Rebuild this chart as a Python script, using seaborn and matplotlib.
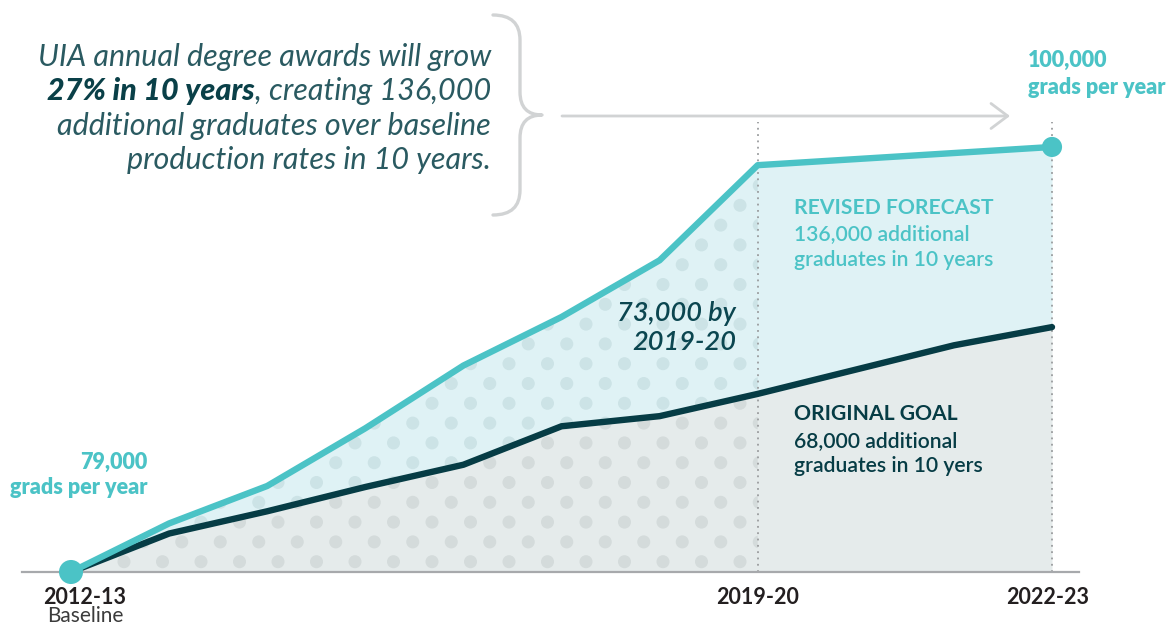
import numpy as np
import pandas as pd
import matplotlib
matplotlib.use("Agg")
import matplotlib.pyplot as plt
import matplotlib.transforms as mtransforms
from matplotlib.path import Path
from matplotlib.patches import PathPatch
import seaborn as sns

# ---------------- data ----------------
years = ["2012-13", "2013-14", "2014-15", "2015-16", "2016-17", "2017-18",
         "2018-19", "2019-20", "2020-21", "2021-22", "2022-23"]
year_idx = list(range(len(years)))
# annual degree awards, thousands
revised_forecast = [79.0, 81.4, 83.25, 86.1, 89.2, 91.6, 94.4, 99.1, 99.4, 99.7, 100.0]
original_goal = [79.0, 80.9, 82.0, 83.2, 84.3, 86.2, 86.7, 87.8, 89.0, 90.2, 91.1]
tick_positions = [0, 7, 10]
tick_labels = ["2012-13", "2019-20", "2022-23"]

# ---------------- style ----------------
TEAL = "#4bc3c6"
DARK = "#063c45"
TEAL_FILL = "#dff2f5"
GRAY_FILL = "#e5ebeb"
DOT_GRAY = "#d4dbdb"
DOT_TEAL = "#cce3e6"
LIGHT_GRAY = "#d1d3d4"
TEXT_DARK = "#2a5a61"

sns.set_theme(style="white")
plt.rcParams['font.family'] = ['Lato', 'DejaVu Sans']

W, H = 1172, 625
fig = plt.figure(figsize=(W / 100, H / 100), dpi=100)
BASE_PX = 572
PX_PER_X = 98.1
PX_PER_Y = 20.24
ax = fig.add_axes([22 / W, (H - BASE_PX) / H, (1079 - 22) / W, BASE_PX / H])
ax.set_xlim(-49 / PX_PER_X, (1079 - 71) / PX_PER_X)
ax.set_ylim(79, 79 + BASE_PX / PX_PER_Y)

df = pd.DataFrame({"i": year_idx, "year": years,
                   "revised": revised_forecast, "original": original_goal})
hist = df[df.i <= 7]

# area fills
ax.fill_between(df.i, 79, df.original, color=GRAY_FILL, lw=0, zorder=1)
ax.fill_between(df.i, df.original, df.revised, color=TEAL_FILL, lw=0, zorder=1)

# clip regions for the dotted texture (historic part only)
g_clip = ax.fill_between(hist.i, 79, hist.original, color="none", lw=0)
t_clip = ax.fill_between(hist.i, hist.original, hist.revised, color="none", lw=0)

# dot texture grid (decorative pattern)
dx = 38.5 / PX_PER_X
dy = 19.8 / PX_PER_Y
gx, gy = [], []
for r in range(30):
    yv = 79 + 10.3 / PX_PER_Y + r * dy
    x0 = 53 / PX_PER_X - 2 * dx + (r % 2) * dx / 2
    xs = np.arange(x0, 7.6, dx)
    gx.extend(xs)
    gy.extend([yv] * len(xs))
for clip, col in ((g_clip, DOT_GRAY), (t_clip, DOT_TEAL)):
    sc = ax.scatter(gx, gy, s=88, color=col, edgecolors="none", zorder=1.5)
    sc.set_clip_path(clip.get_paths()[0], ax.transData)

# dotted verticals
ax.vlines([7, 10], 79, 79 + (BASE_PX - 122) / PX_PER_Y, colors="#9a9c9e",
          linestyles=(0, (1, 2.5)), lw=1.3, zorder=2)

# lines
sns.lineplot(data=df, x="i", y="original", color=DARK, lw=4.6, ax=ax, zorder=4)
sns.lineplot(data=df, x="i", y="revised", color=TEAL, lw=4.6, ax=ax, zorder=5)
ends = df.iloc[[0, -1]]
ax.scatter(ends.i.iloc[:1], ends.revised.iloc[:1], s=300, color=TEAL, zorder=6, clip_on=False, edgecolors="none")
ax.scatter(ends.i.iloc[1:], ends.revised.iloc[1:], s=210, color=TEAL, zorder=6, clip_on=False, edgecolors="none")

# axes cosmetics
for s in ["top", "right", "left"]:
    ax.spines[s].set_visible(False)
ax.spines["bottom"].set_color("#a7a9ac")
ax.spines["bottom"].set_linewidth(1.6)
ax.set_yticks([])
ax.set_xticks(tick_positions)
ax.set_xticklabels(tick_labels, fontsize=15.5, fontweight="bold", color="#231f20")
ax.tick_params(axis="x", length=0, pad=11)
ax.set_xlabel("")
ax.set_ylabel("")
labs = ax.get_xticklabels()
labs[0].set_transform(labs[0].get_transform() + mtransforms.ScaledTranslation(14 / 100, 0, fig.dpi_scale_trans))
labs[2].set_transform(labs[2].get_transform() + mtransforms.ScaledTranslation(-4 / 100, 0, fig.dpi_scale_trans))


def P(x, y):
    return x / W, 1 - y / H


fig.text(*P(85, 616), "Baseline", fontsize=15, color="#3b3b3b", ha="center", va="center")

# teal value labels
LFS = 15.5
fig.text(*P(1028, 60), "100,000", fontsize=LFS, fontweight="heavy", color=TEAL, ha="left", va="center")
fig.text(*P(1028, 87), "grads per year", fontsize=LFS, fontweight="heavy", color=TEAL, ha="left", va="center")
fig.text(*P(147, 462), "79,000", fontsize=LFS, fontweight="heavy", color=TEAL, ha="right", va="center")
fig.text(*P(147, 488), "grads per year", fontsize=LFS, fontweight="heavy", color=TEAL, ha="right", va="center")

# forecast labels
AFS = 15.2
fig.text(*P(794, 208), "REVISED FORECAST", fontsize=AFS, fontweight="bold", color=TEAL, ha="left", va="center")
fig.text(*P(794, 234), "136,000 additional", fontsize=AFS, fontweight="semibold", color=TEAL, ha="left", va="center")
fig.text(*P(794, 260), "graduates in 10 years", fontsize=AFS, fontweight="semibold", color=TEAL, ha="left", va="center")
fig.text(*P(794, 414), "ORIGINAL GOAL", fontsize=AFS, fontweight="bold", color=DARK, ha="left", va="center")
fig.text(*P(794, 441), "68,000 additional", fontsize=AFS, fontweight="semibold", color=DARK, ha="left", va="center")
fig.text(*P(794, 466), "graduates in 10 yers", fontsize=AFS, fontweight="semibold", color=DARK, ha="left", va="center")

fig.text(*P(736, 313), "73,000 by", fontsize=19.5, fontweight="semibold", style="italic", color="#0b4650", ha="right", va="center")
fig.text(*P(736, 343), "2019-20", fontsize=19.5, fontweight="semibold", style="italic", color="#0b4650", ha="right", va="center")

# headline paragraph
PFS = 22
fig.text(*P(491, 57), "UIA annual degree awards will grow", fontsize=PFS, style="italic", fontweight="normal", color=TEXT_DARK, ha="right", va="center")
t_rest = fig.text(*P(491, 91), ", creating 136,000", fontsize=PFS, style="italic", fontweight="normal", color=TEXT_DARK, ha="right", va="center")
fig.text(*P(491, 126), "additional graduates over baseline", fontsize=PFS, style="italic", fontweight="normal", color=TEXT_DARK, ha="right", va="center")
fig.text(*P(491, 160), "production rates in 10 years.", fontsize=PFS, style="italic", fontweight="normal", color=TEXT_DARK, ha="right", va="center")
renderer = fig.canvas.get_renderer()
bb = t_rest.get_window_extent(renderer)
fig.text(bb.x0 / W, 1 - 91 / H, "27% in 10 years", fontsize=PFS, style="italic", fontweight="black", color="#0a4048", ha="right", va="center")

# curly brace
pix = mtransforms.Affine2D().scale(1 / W, -1 / H).translate(0, 1) + fig.transFigure
verts = [(493, 15), (520, 15), (520, 40), (520, 92), (520, 115), (542, 115),
         (520, 115), (520, 138), (520, 190), (520, 215), (493, 215)]
codes = [Path.MOVETO, Path.CURVE3, Path.CURVE3, Path.LINETO, Path.CURVE3, Path.CURVE3,
         Path.CURVE3, Path.CURVE3, Path.LINETO, Path.CURVE3, Path.CURVE3]
fig.patches.append(PathPatch(Path(verts, codes), transform=pix, fill=False,
                             edgecolor=LIGHT_GRAY, lw=2.4, capstyle="round", joinstyle="round"))

# arrow
ax.annotate("", xy=(1010, H - 116), xytext=(562, H - 116), xycoords="figure pixels",
            textcoords="figure pixels",
            arrowprops=dict(arrowstyle="->,head_length=0.6,head_width=0.45", color=LIGHT_GRAY,
                            lw=2, mutation_scale=20, shrinkA=0, shrinkB=0))

fig.savefig("out.png", dpi=100)
